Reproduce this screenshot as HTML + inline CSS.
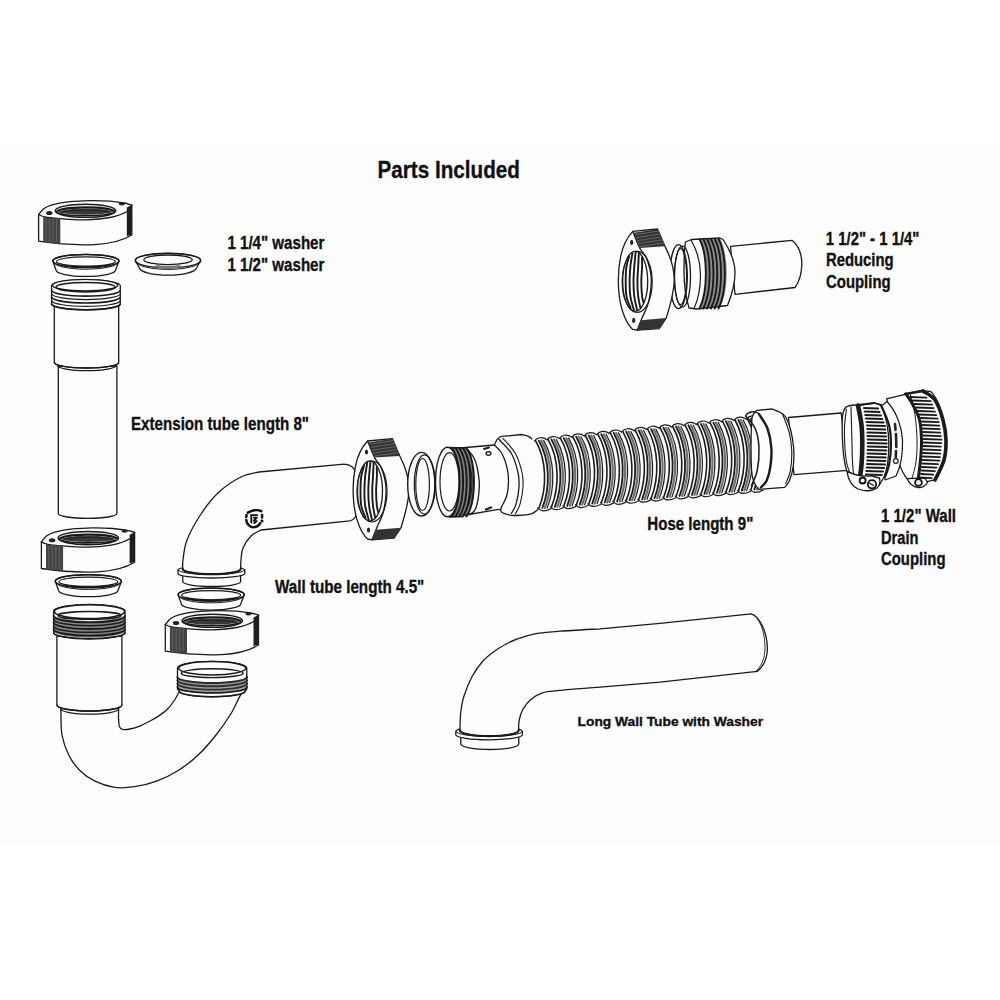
<!DOCTYPE html>
<html><head><meta charset="utf-8"><style>html,body{margin:0;padding:0;background:#fff;width:1000px;height:1000px;overflow:hidden}svg{display:block}</style></head><body>
<svg width="1000" height="1000" viewBox="0 0 1000 1000" stroke-linejoin="round" stroke-linecap="round">
<rect width="1000" height="1000" fill="#fff"/>
<rect y="144" width="1000" height="699" fill="#fdfdfd"/>
<defs>
<g id="nut"><path d="M38.6,214.5 L38.6,241.2 C55,243.8 75,245.3 95,244.6 C110,243.8 124,239.8 131.8,235 L131.8,205 L38.6,214.5Z" fill="#fdfdfd" stroke="#1a1a1a" stroke-width="1.30" />
<path d="M38.6,214.5 C39.5,213.5 41.8,210.1 44.0,208.5 C46.2,206.9 47.7,206.0 52.0,204.8 C56.3,203.7 63.7,202.3 70.0,201.6 C76.3,200.9 83.3,200.7 90.0,200.6 C96.7,200.5 104.3,200.8 110.0,201.2 C115.7,201.6 120.4,202.4 124.0,203.0 C127.6,203.6 130.5,204.7 131.8,205.0C131.0,206.1 130.6,209.4 127.0,211.5 C123.4,213.6 117.0,216.1 110.0,217.5 C103.0,218.9 93.3,219.6 85.0,219.8 C76.7,220.0 66.7,219.1 60.0,218.6 C53.3,218.1 48.6,217.7 45.0,217.0 C41.4,216.3 39.7,214.9 38.6,214.5Z" fill="#fdfdfd" stroke="#1a1a1a" stroke-width="1.30" />
<ellipse cx="85.5" cy="210.8" rx="30.3" ry="6.6" fill="#fdfdfd" stroke="#1a1a1a" stroke-width="1.40" />
<path d="M57,211.5 C62,206.5 105,205.5 114,211" fill="none" stroke="#1a1a1a" stroke-width="2.20" />
<path d="M58,213 C66,216.5 104,216.5 113,213" fill="none" stroke="#1a1a1a" stroke-width="1.60" />
<path d="M58,212 C64,207.5 106,207 113,212 C104,215.5 66,215.5 58,212Z" fill="#3a3a3a"/>
<path d="M62,212 C70,209.5 100,209.5 109,212" fill="#3a3a3a" stroke="#1a1a1a" stroke-width="0.80" stroke="#eee"/>
<path d="M43.2,217.2 L60.3,218.6 L60.3,243.8 L43.2,242.2Z" fill="#444"/>
<line x1="46.0" y1="219" x2="46.0" y2="241" stroke="#777" stroke-width="0.6"/>
<line x1="49.5" y1="219" x2="49.5" y2="241" stroke="#777" stroke-width="0.6"/>
<line x1="53.0" y1="219" x2="53.0" y2="241" stroke="#777" stroke-width="0.6"/>
<line x1="56.5" y1="219" x2="56.5" y2="241" stroke="#777" stroke-width="0.6"/>
<path d="M126.8,207.5 L131.8,205 L131.8,234.5 L126.8,236.2Z" fill="#1e1e1e"/>
<ellipse cx="49.3" cy="213" rx="3.2" ry="2.0" fill="#222"/>
<ellipse cx="121.8" cy="203.8" rx="3.0" ry="1.7" fill="#222"/></g>
<g id="wsh"><path d="M52.8,261 A33.1,6.6 0 0 1 119,261 L115.6,270 A29.8,6.4 0 0 1 56,270 Z" fill="#fdfdfd" stroke="#1a1a1a" stroke-width="1.30" />
<ellipse cx="85.9" cy="261.0" rx="33.1" ry="6.6" fill="none" stroke="#1a1a1a" stroke-width="1.50" />
<ellipse cx="85.9" cy="261.5" rx="29.5" ry="4.6" fill="none" stroke="#1a1a1a" stroke-width="1.20" />
<path d="M53.6,262.2 A32.3,7.0 0 0 0 118.2,262.2" fill="none" stroke="#1a1a1a" stroke-width="1.00" />
<path d="M62,264.5 C70,267.5 102,267.5 110,264.5" fill="none" stroke="#1a1a1a" stroke-width="1.60" /></g>
<g id="snut"><path d="M367.6,441 L392.3,438.6 L399.8,456 C406,468 409,480 409,489 C409,500 405,515 401,527.7 L394,538.2 L372,539.8 L367.6,539 C362,534 356,522 354,505 C352.5,492 353,478 355.5,466 C357.5,456 361,448 367.6,441Z" fill="#fdfdfd" stroke="#1a1a1a" stroke-width="1.30" />
<path d="M367.6,441.0 C368.8,443.8 372.2,453.1 374.5,457.6 C376.8,462.1 379.5,463.0 381.4,468.0 C383.3,473.0 385.6,480.4 386.0,487.5 C386.4,494.6 385.2,503.8 383.7,510.5 C382.2,517.2 378.8,522.8 376.8,527.7 C374.9,532.6 372.8,537.8 372.0,539.8" fill="none" stroke="#1a1a1a" stroke-width="1.30" />
<path d="M368.7,442.4 L392.3,438.8 L399.8,455.9 L374.5,457.6Z" fill="#333"/>
<line x1="371.0" y1="444.2" x2="394.0" y2="440.5" stroke="#888" stroke-width="0.6"/>
<line x1="371.8" y1="447.2" x2="395.2" y2="443.5" stroke="#888" stroke-width="0.6"/>
<line x1="372.6" y1="450.2" x2="396.4" y2="446.5" stroke="#888" stroke-width="0.6"/>
<line x1="373.4" y1="453.2" x2="397.6" y2="449.5" stroke="#888" stroke-width="0.6"/>
<line x1="374.2" y1="456.2" x2="398.8" y2="452.5" stroke="#888" stroke-width="0.6"/>
<path d="M375.6,529.8 L401,527.7 L394,538.2 L372,539.8Z" fill="#333"/>
<ellipse cx="372.0" cy="491.5" rx="15.0" ry="30.5" fill="none" stroke="#1a1a1a" stroke-width="1.20" />
<ellipse cx="370.0" cy="491.0" rx="12.5" ry="30.0" fill="#fdfdfd" stroke="#1a1a1a" stroke-width="1.30" />
<path d="M364.0,465.9 C363.6,467.6 361.9,471.8 361.3,476.0 C360.7,480.2 360.5,486.0 360.5,491.0 C360.5,496.0 360.5,501.5 361.3,506.0 C362.1,510.5 364.8,515.8 365.5,517.8" fill="none" stroke="#1a1a1a" stroke-width="1.90" />
<path d="M367.2,463.0 C366.9,465.1 365.7,471.3 365.2,476.0 C364.7,480.7 364.4,486.0 364.4,491.0 C364.4,496.0 364.5,501.2 365.2,506.0 C365.9,510.8 368.1,517.4 368.7,519.6" fill="none" stroke="#1a1a1a" stroke-width="1.90" />
<path d="M370.4,462.2 C370.2,464.5 369.5,471.2 369.1,476.0 C368.8,480.8 368.3,486.0 368.3,491.0 C368.3,496.0 368.5,501.3 369.1,506.0 C369.7,510.7 371.4,517.2 371.9,519.5" fill="none" stroke="#1a1a1a" stroke-width="1.90" />
<path d="M373.6,463.5 C373.5,465.6 373.2,471.4 373.0,476.0 C372.8,480.6 372.2,486.0 372.2,491.0 C372.2,496.0 372.5,501.6 373.0,506.0 C373.5,510.4 374.8,515.3 375.1,517.2" fill="none" stroke="#1a1a1a" stroke-width="1.90" />
<path d="M376.8,467.0 C376.8,468.5 377.0,472.0 376.9,476.0 C376.8,480.0 376.1,486.0 376.1,491.0 C376.1,496.0 376.5,502.5 376.9,506.0 C377.3,509.5 378.1,511.2 378.3,512.2" fill="none" stroke="#1a1a1a" stroke-width="1.90" />
<ellipse cx="366.5" cy="452" rx="1.6" ry="2.6" fill="#222"/>
<ellipse cx="368.5" cy="530" rx="1.6" ry="2.6" fill="#222"/></g>
</defs>
<use href="#nut"/>
<use href="#wsh"/>
<path d="M135.2,260.5 A32.7,7.2 0 0 1 200.7,260.5 L196.5,268 A28.6,7.6 0 0 1 139.4,268 Z" fill="#fdfdfd" stroke="#1a1a1a" stroke-width="1.30" />
<ellipse cx="168.0" cy="260.5" rx="32.7" ry="7.2" fill="none" stroke="#1a1a1a" stroke-width="1.40" />
<ellipse cx="168.0" cy="259.8" rx="24.2" ry="4.8" fill="none" stroke="#1a1a1a" stroke-width="1.30" />
<path d="M136.5,262.0 A31.5,7.4 0 0 0 199.5,262.0" fill="none" stroke="#1a1a1a" stroke-width="1.00" />
<path d="M155,264.2 C160,266.5 176,266.5 181,264.2 L178,268 C170,269.5 162,269.5 158,268Z" fill="#777"/>
<path d="M58.3,366 L58.3,513.6 A29.3,4.8 0 0 0 116.9,513.6 L116.9,366Z" fill="#fdfdfd" stroke="#1a1a1a" stroke-width="1.30" />
<path d="M54.3,304 L54.3,362.4 A32.2,5.6 0 0 0 118.7,362.4 L118.7,304Z" fill="#fdfdfd" stroke="#1a1a1a" stroke-width="1.30" />
<path d="M54.3,362.4 A32.2,5.6 0 0 0 118.7,362.4" fill="none" stroke="#1a1a1a" stroke-width="1.30" />
<path d="M57.5,365.3 A29.4,5.3 0 0 0 116.3,365.3" fill="none" stroke="#1a1a1a" stroke-width="1.20" />
<path d="M51.6,285.5 A34.4,6.2 0 0 1 120.3,285.5 L120.3,304.5 A34.4,5.5 0 0 1 51.6,304.5Z" fill="#fdfdfd" stroke="#1a1a1a" stroke-width="1.30" />
<path d="M51.6,290.5 A34.4,6.0 0 0 0 120.3,290.5" fill="none" stroke="#1a1a1a" stroke-width="1.70" />
<path d="M51.6,293.9 A34.4,6.0 0 0 0 120.3,293.9" fill="none" stroke="#1a1a1a" stroke-width="1.20" />
<path d="M51.6,297.3 A34.4,6.0 0 0 0 120.3,297.3" fill="none" stroke="#1a1a1a" stroke-width="1.70" />
<path d="M51.6,300.7 A34.4,6.0 0 0 0 120.3,300.7" fill="none" stroke="#1a1a1a" stroke-width="1.20" />
<path d="M51.6,304.1 A34.4,6.0 0 0 0 120.3,304.1" fill="none" stroke="#1a1a1a" stroke-width="1.70" />
<ellipse cx="85.1" cy="285.2" rx="32.6" ry="5.8" fill="#fdfdfd" stroke="#1a1a1a" stroke-width="1.40" />
<ellipse cx="85.6" cy="287.2" rx="29.6" ry="4.8" fill="none" stroke="#1a1a1a" stroke-width="1.50" />
<use href="#nut" transform="translate(2.8,327.3)"/>
<use href="#wsh" transform="translate(2.45,320.25)"/>
<path d="M60.6,706.0 C60.6,707.0 60.7,707.2 60.9,712.0 C61.1,716.8 60.7,727.9 62.0,735.0 C63.3,742.1 65.7,748.9 68.6,754.8 C71.5,760.7 75.2,765.8 79.6,770.2 C84.0,774.6 89.1,778.3 95.0,781.2 C100.9,784.1 108.2,786.5 114.8,787.4 C121.4,788.3 127.6,787.7 134.6,786.7 C141.6,785.7 149.3,784.0 156.6,781.2 C163.9,778.5 171.6,774.6 178.6,770.2 C185.6,765.8 192.2,760.7 198.4,754.8 C204.6,748.9 210.5,742.0 216.0,735.0 C221.5,728.0 227.6,719.2 231.4,713.0 C235.2,706.8 237.3,700.9 239.1,697.6 C240.9,694.3 241.5,693.8 242.0,693.0 L178.8,692.2C178.0,693.7 175.9,698.2 174.0,701.0 C172.1,703.8 170.0,706.6 167.6,709.0 C165.2,711.4 162.5,713.4 159.6,715.4 C156.7,717.4 153.2,719.3 150.0,721.0 C146.8,722.7 143.7,724.5 140.4,725.8 C137.1,727.1 133.0,728.4 130.0,729.0 C127.0,729.6 124.3,729.8 122.5,729.4 C120.7,729.0 120.1,728.5 119.4,726.4 C118.7,724.3 118.6,720.4 118.5,717.0 C118.4,713.6 118.8,707.8 118.8,706.0Z" fill="#fdfdfd" stroke="#1a1a1a" stroke-width="1.30" />
<path d="M56.9,636 L56.9,705 A32.5,6 0 0 0 121.9,705 L121.9,636Z" fill="#fdfdfd" stroke="#1a1a1a" stroke-width="1.30" />
<path d="M56.9,705.0 A32.5,6.0 0 0 0 121.9,705.0" fill="none" stroke="#1a1a1a" stroke-width="1.30" />
<path d="M60.9,708.8 A28.8,5.3 0 0 0 118.5,708.8" fill="none" stroke="#1a1a1a" stroke-width="1.20" />
<path d="M53.6,611 A35.7,6.2 0 0 1 125,611 L125,633 A35.7,5.5 0 0 1 53.6,633Z" fill="#fdfdfd" stroke="#1a1a1a" stroke-width="1.30" />
<path d="M54,615 A35.5,6.5 0 0 0 124.7,615 L124.7,632 A35.5,6 0 0 1 54,632Z" fill="#333" opacity="0.6"/>
<path d="M53.6,616.0 A35.7,6.4 0 0 0 125.0,616.0" fill="none" stroke="#1a1a1a" stroke-width="1.90" />
<path d="M53.6,619.3 A35.7,6.4 0 0 0 125.0,619.3" fill="none" stroke="#1a1a1a" stroke-width="1.50" />
<path d="M53.6,622.6 A35.7,6.4 0 0 0 125.0,622.6" fill="none" stroke="#1a1a1a" stroke-width="1.90" />
<path d="M53.6,625.9 A35.7,6.4 0 0 0 125.0,625.9" fill="none" stroke="#1a1a1a" stroke-width="1.50" />
<path d="M53.6,629.2 A35.7,6.4 0 0 0 125.0,629.2" fill="none" stroke="#1a1a1a" stroke-width="1.90" />
<path d="M53.6,632.5 A35.7,6.4 0 0 0 125.0,632.5" fill="none" stroke="#1a1a1a" stroke-width="1.50" />
<ellipse cx="89.5" cy="611.6" rx="35.3" ry="7.0" fill="#fdfdfd" stroke="#1a1a1a" stroke-width="1.60" />
<ellipse cx="89.5" cy="615.4" rx="31.5" ry="3.9" fill="none" stroke="#1a1a1a" stroke-width="1.50" />
<path d="M177.5,668 A34.5,6.5 0 0 1 246.8,668 L246.8,689 L245.3,691 A33,5.8 0 0 1 179.2,691 L177.5,689Z" fill="#fdfdfd" stroke="#1a1a1a" stroke-width="1.30" />
<path d="M177.4,677.0 A34.8,6.0 0 0 0 247.0,677.0" fill="none" stroke="#1a1a1a" stroke-width="1.90" />
<path d="M177.4,680.3 A34.8,6.0 0 0 0 247.0,680.3" fill="none" stroke="#1a1a1a" stroke-width="1.90" />
<path d="M177.4,683.6 A34.8,6.0 0 0 0 247.0,683.6" fill="none" stroke="#1a1a1a" stroke-width="1.90" />
<path d="M177.4,686.9 A34.8,6.0 0 0 0 247.0,686.9" fill="none" stroke="#1a1a1a" stroke-width="1.90" />
<path d="M178,677 A34.5,6 0 0 0 246.5,677 L246.5,687 A34.5,6 0 0 1 178,687Z" fill="#444" opacity="0.5"/>
<path d="M179.2,691.0 A33.0,5.8 0 0 0 245.2,691.0" fill="none" stroke="#1a1a1a" stroke-width="1.50" />
<ellipse cx="212.2" cy="668.3" rx="33.6" ry="6.7" fill="#fdfdfd" stroke="#1a1a1a" stroke-width="1.50" />
<ellipse cx="212.2" cy="673.2" rx="31.0" ry="4.4" fill="none" stroke="#1a1a1a" stroke-width="1.40" />
<use href="#nut" transform="translate(126.7,410)"/>
<use href="#wsh" transform="translate(125.25,333.65)"/>
<path d="M182.75,574 L182.75,581.5 A28.9,5 0 0 0 240.6,581.5 L240.6,574Z" fill="#fdfdfd" stroke="#1a1a1a" stroke-width="1.30" />
<path d="M178,570 A33.4,4.5 0 0 1 244.8,570 L244.8,573.5 A33.4,4.5 0 0 1 178,573.5Z" fill="#fdfdfd" stroke="#1a1a1a" stroke-width="1.30" />
<path d="M178.0,570.0 A33.4,4.5 0 0 0 244.8,570.0" fill="none" stroke="#1a1a1a" stroke-width="1.00" />
<path d="M344,464.2 L259,472C256.0,472.8 247.7,473.7 241.0,477.0 C234.3,480.3 225.7,485.8 219.0,492.0 C212.3,498.2 206.3,506.0 201.0,514.0 C195.7,522.0 190.0,532.3 187.0,540.0 C184.0,547.7 183.7,555.2 183.0,560.0 C182.3,564.8 182.8,567.5 182.8,569.0 A28.9,5.2 0 0 0 240.6,569C240.7,567.5 240.6,563.5 241.0,560.0 C241.4,556.5 241.3,552.0 243.0,548.0 C244.7,544.0 248.0,539.0 251.0,536.0 C254.0,533.0 259.3,531.0 261.0,530.0 L350,520.8 C354,520 356.5,516 357.2,511 C358.6,500 358.6,482 356.5,474 C355,469 351,464.5 344,464.2Z" fill="#fdfdfd" stroke="#1a1a1a" stroke-width="1.30" />
<path d="M182.8,569.0 A28.9,5.2 0 0 0 240.6,569.0" fill="none" stroke="#1a1a1a" stroke-width="2.20" />
<g transform="translate(254.3,518.6) scale(1.00)">
<path d="M-6.5,-6 C-3,-8 3,-9.5 7,-7.5 M7.8,-3.5 L7.8,-1 M7.5,2 L8,2.5 M6,4.5 C4.5,7 2,8.5 -0.5,8.6 M-2.5,8.5 C-5.5,7.5 -7.5,5 -8,1.5 M-8,-1.5 L-7.8,-3.5" fill="none" stroke="#111" stroke-width="2.5" stroke-linecap="round"/>
<path d="M-3.5,-3.5 L3,-3.5 M-3,-2 L-3,4 M-0.5,-1 L2.5,-1 L-0.5,2 L2.5,2.5 L0,4.5" fill="none" stroke="#111" stroke-width="1.9"/>
</g>
<use href="#snut"/>
<ellipse cx="421.5" cy="484.2" rx="13.8" ry="31.8" fill="#fdfdfd" stroke="#1a1a1a" stroke-width="1.40" />
<ellipse cx="424.5" cy="484.5" rx="10.2" ry="29.6" fill="none" stroke="#1a1a1a" stroke-width="1.20" />
<ellipse cx="422.6" cy="484.5" rx="6.8" ry="26.0" fill="none" stroke="#1a1a1a" stroke-width="1.20" />
<path d="M460,448 L494.3,445 L512,444 L512,509 L497,509.7 L460,516Z" fill="#fdfdfd" stroke="#1a1a1a" stroke-width="1.30" />
<path d="M466.5,448.3 C467.8,449.9 472.1,454.4 474.0,458.0 C475.9,461.6 476.7,464.9 477.6,469.7 C478.5,474.5 479.6,480.3 479.3,486.7 C479.0,493.1 477.5,503.4 475.9,508.0 C474.3,512.6 470.9,513.4 469.9,514.5" fill="none" stroke="#1a1a1a" stroke-width="1.30" />
<path d="M494.3,445 L497.1,439.3 C499,437 500,436.6 501.9,436.4 L521.8,434.5C522.9,434.8 526.6,435.4 528.5,436.4 C530.4,437.3 532.4,439.6 533.2,440.2C534.2,441.6 537.4,444.2 539.0,448.8 C540.6,453.4 542.0,462.3 542.7,467.8 C543.4,473.3 543.4,476.8 543.2,482.0 C543.1,487.2 542.8,494.2 541.8,499.0 C540.8,503.8 537.8,508.6 537.0,510.5C535.7,511.1 533.7,513.6 529.4,514.4 C525.1,515.2 516.0,515.6 511.4,515.3 C506.8,515.0 503.5,513.0 501.9,512.5C501.7,511.9 500.1,511.4 500.9,508.7 C501.7,506.0 505.3,500.8 506.6,496.3 C507.9,491.9 508.4,486.8 508.5,482.0 C508.6,477.2 508.2,472.6 507.1,467.8 C506.0,463.1 504.0,457.3 501.9,453.5 C499.8,449.7 495.6,446.4 494.3,445.0Z" fill="#fdfdfd" stroke="#1a1a1a" stroke-width="1.30" />
<path d="M499.0,439.3 C501.1,441.7 508.2,448.0 511.4,453.5 C514.6,459.0 516.7,466.9 518.0,472.5 C519.3,478.1 519.3,481.6 519.0,486.8 C518.7,492.0 517.4,499.5 516.1,503.9 C514.8,508.3 512.2,511.8 511.4,513.4" fill="none" stroke="#1a1a1a" stroke-width="1.30" />
<path d="M503.0,438.3 C505.1,440.8 512.2,447.8 515.4,453.5 C518.6,459.2 520.7,466.9 522.0,472.5 C523.3,478.1 523.3,481.6 523.0,486.8 C522.7,492.0 521.4,499.4 520.1,503.9 C518.8,508.4 516.2,512.3 515.4,514.0" fill="none" stroke="#1a1a1a" stroke-width="1.10" />
<path d="M447,447.5 L463.8,448 C470,460 472,475 472,482 C472,495 469,508 462,516.5 L449.5,517Z" fill="#fdfdfd" stroke="#1a1a1a" stroke-width="1.30" />
<path d="M452,448 C462,462 462,502 452,516.5 L467,516 C477,502 477,462 467,448Z" fill="#333" opacity="0.6"/>
<path d="M452.0,448 C462.0,462 462.0,502 452.0,516.5" fill="none" stroke="#1a1a1a" stroke-width="2.00" />
<path d="M455.6,448 C465.6,462 465.6,502 455.6,516.5" fill="none" stroke="#1a1a1a" stroke-width="2.00" />
<path d="M459.2,448 C469.2,462 469.2,502 459.2,516.5" fill="none" stroke="#1a1a1a" stroke-width="2.00" />
<path d="M462.8,448 C472.8,462 472.8,502 462.8,516.5" fill="none" stroke="#1a1a1a" stroke-width="2.00" />
<path d="M466.4,448 C476.4,462 476.4,502 466.4,516.5" fill="none" stroke="#1a1a1a" stroke-width="2.00" />
<ellipse cx="447.5" cy="482.0" rx="12.0" ry="34.8" fill="#fdfdfd" stroke="#1a1a1a" stroke-width="1.40" />
<ellipse cx="449.5" cy="481.8" rx="9.5" ry="29.2" fill="none" stroke="#1a1a1a" stroke-width="1.20" />
<ellipse cx="488.5" cy="453.5" rx="2.4" ry="1.7" fill="none" stroke="#222" stroke-width="1.4"/>
<path d="M484,449 L489,447.5" stroke="#222" stroke-width="2"/>
<path d="M486,509.5 L491,507.5" stroke="#222" stroke-width="2.2"/>
<path d="M532,439 L746,416 L754,490 L538,509Z" fill="#fdfdfd"/>
<path d="M535.5,440.6 C547.0,460.3 547.0,488.1 539.0,508.0" fill="none" stroke="#1c1c1c" stroke-width="1.60"/>
<path d="M538.8,440.6 C550.3,460.3 550.3,488.1 542.3,508.0" fill="none" stroke="#1c1c1c" stroke-width="1.80"/>
<path d="M541.3,440.6 C552.8,460.3 552.8,488.1 544.8,508.0" fill="none" stroke="#707070" stroke-width="2.20"/>
<path d="M543.7,440.6 C555.2,460.3 555.2,488.1 547.2,508.0" fill="none" stroke="#1c1c1c" stroke-width="1.20"/>
<path d="M534.5,440.9 C537.0,437.2 542.5,436.6 546.9,439.8" fill="none" stroke="#1c1c1c" stroke-width="1.2"/>
<path d="M538.0,508.0 C540.5,511.2 545.5,511.6 551.0,508.6" fill="none" stroke="#1c1c1c" stroke-width="1.2"/>
<path d="M548.0,439.4 C559.5,459.1 559.5,487.0 551.5,506.9" fill="none" stroke="#1c1c1c" stroke-width="1.60"/>
<path d="M551.3,439.4 C562.8,459.1 562.8,487.0 554.8,506.9" fill="none" stroke="#1c1c1c" stroke-width="1.80"/>
<path d="M553.8,439.4 C565.3,459.1 565.3,487.0 557.3,506.9" fill="none" stroke="#707070" stroke-width="2.20"/>
<path d="M556.2,439.4 C567.7,459.1 567.7,487.0 559.7,506.9" fill="none" stroke="#1c1c1c" stroke-width="1.20"/>
<path d="M547.0,439.7 C549.5,436.0 555.0,435.4 559.4,438.6" fill="none" stroke="#1c1c1c" stroke-width="1.2"/>
<path d="M550.5,506.9 C553.0,510.1 558.0,510.5 563.5,507.5" fill="none" stroke="#1c1c1c" stroke-width="1.2"/>
<path d="M560.4,438.1 C571.9,457.8 571.9,485.8 563.9,505.8" fill="none" stroke="#1c1c1c" stroke-width="1.60"/>
<path d="M563.7,438.1 C575.2,457.8 575.2,485.8 567.2,505.8" fill="none" stroke="#1c1c1c" stroke-width="1.80"/>
<path d="M566.2,438.1 C577.7,457.8 577.7,485.8 569.7,505.8" fill="none" stroke="#707070" stroke-width="2.20"/>
<path d="M568.6,438.1 C580.1,457.8 580.1,485.8 572.1,505.8" fill="none" stroke="#1c1c1c" stroke-width="1.20"/>
<path d="M559.4,438.4 C561.9,434.7 567.4,434.1 571.8,437.3" fill="none" stroke="#1c1c1c" stroke-width="1.2"/>
<path d="M562.9,505.8 C565.4,509.0 570.4,509.4 575.9,506.4" fill="none" stroke="#1c1c1c" stroke-width="1.2"/>
<path d="M572.9,436.8 C584.4,456.6 584.4,484.7 576.4,504.7" fill="none" stroke="#1c1c1c" stroke-width="1.60"/>
<path d="M576.2,436.8 C587.7,456.6 587.7,484.7 579.7,504.7" fill="none" stroke="#1c1c1c" stroke-width="1.80"/>
<path d="M578.7,436.8 C590.2,456.6 590.2,484.7 582.2,504.7" fill="none" stroke="#707070" stroke-width="2.20"/>
<path d="M581.1,436.8 C592.6,456.6 592.6,484.7 584.6,504.7" fill="none" stroke="#1c1c1c" stroke-width="1.20"/>
<path d="M571.9,437.1 C574.4,433.4 579.9,432.8 584.3,436.0" fill="none" stroke="#1c1c1c" stroke-width="1.2"/>
<path d="M575.4,504.7 C577.9,507.9 582.9,508.3 588.4,505.3" fill="none" stroke="#1c1c1c" stroke-width="1.2"/>
<path d="M585.4,435.5 C596.9,455.4 596.9,483.5 588.9,503.6" fill="none" stroke="#1c1c1c" stroke-width="1.60"/>
<path d="M588.7,435.5 C600.2,455.4 600.2,483.5 592.2,503.6" fill="none" stroke="#1c1c1c" stroke-width="1.80"/>
<path d="M591.2,435.5 C602.7,455.4 602.7,483.5 594.7,503.6" fill="none" stroke="#707070" stroke-width="2.20"/>
<path d="M593.6,435.5 C605.1,455.4 605.1,483.5 597.1,503.6" fill="none" stroke="#1c1c1c" stroke-width="1.20"/>
<path d="M584.4,435.8 C586.9,432.1 592.4,431.5 596.8,434.7" fill="none" stroke="#1c1c1c" stroke-width="1.2"/>
<path d="M587.9,503.6 C590.4,506.8 595.4,507.2 600.9,504.2" fill="none" stroke="#1c1c1c" stroke-width="1.2"/>
<path d="M597.9,434.2 C609.4,454.2 609.4,482.4 601.4,502.5" fill="none" stroke="#1c1c1c" stroke-width="1.60"/>
<path d="M601.2,434.2 C612.7,454.2 612.7,482.4 604.7,502.5" fill="none" stroke="#1c1c1c" stroke-width="1.80"/>
<path d="M603.7,434.2 C615.2,454.2 615.2,482.4 607.2,502.5" fill="none" stroke="#707070" stroke-width="2.20"/>
<path d="M606.1,434.2 C617.6,454.2 617.6,482.4 609.6,502.5" fill="none" stroke="#1c1c1c" stroke-width="1.20"/>
<path d="M596.9,434.5 C599.4,430.8 604.9,430.2 609.3,433.4" fill="none" stroke="#1c1c1c" stroke-width="1.2"/>
<path d="M600.4,502.5 C602.9,505.7 607.9,506.1 613.4,503.1" fill="none" stroke="#1c1c1c" stroke-width="1.2"/>
<path d="M610.3,432.9 C621.8,452.9 621.8,481.2 613.8,501.5" fill="none" stroke="#1c1c1c" stroke-width="1.60"/>
<path d="M613.6,432.9 C625.1,452.9 625.1,481.2 617.1,501.5" fill="none" stroke="#1c1c1c" stroke-width="1.80"/>
<path d="M616.1,432.9 C627.6,452.9 627.6,481.2 619.6,501.5" fill="none" stroke="#707070" stroke-width="2.20"/>
<path d="M618.5,432.9 C630.0,452.9 630.0,481.2 622.0,501.5" fill="none" stroke="#1c1c1c" stroke-width="1.20"/>
<path d="M609.3,433.2 C611.8,429.5 617.3,428.9 621.7,432.1" fill="none" stroke="#1c1c1c" stroke-width="1.2"/>
<path d="M612.8,501.5 C615.3,504.7 620.3,505.1 625.8,502.1" fill="none" stroke="#1c1c1c" stroke-width="1.2"/>
<path d="M622.8,431.6 C634.3,451.7 634.3,480.1 626.3,500.4" fill="none" stroke="#1c1c1c" stroke-width="1.60"/>
<path d="M626.1,431.6 C637.6,451.7 637.6,480.1 629.6,500.4" fill="none" stroke="#1c1c1c" stroke-width="1.80"/>
<path d="M628.6,431.6 C640.1,451.7 640.1,480.1 632.1,500.4" fill="none" stroke="#707070" stroke-width="2.20"/>
<path d="M631.0,431.6 C642.5,451.7 642.5,480.1 634.5,500.4" fill="none" stroke="#1c1c1c" stroke-width="1.20"/>
<path d="M621.8,431.9 C624.3,428.2 629.8,427.6 634.2,430.8" fill="none" stroke="#1c1c1c" stroke-width="1.2"/>
<path d="M625.3,500.4 C627.8,503.6 632.8,504.0 638.3,501.0" fill="none" stroke="#1c1c1c" stroke-width="1.2"/>
<path d="M635.3,430.3 C646.8,450.5 646.8,478.9 638.8,499.3" fill="none" stroke="#1c1c1c" stroke-width="1.60"/>
<path d="M638.6,430.3 C650.1,450.5 650.1,478.9 642.1,499.3" fill="none" stroke="#1c1c1c" stroke-width="1.80"/>
<path d="M641.1,430.3 C652.6,450.5 652.6,478.9 644.6,499.3" fill="none" stroke="#707070" stroke-width="2.20"/>
<path d="M643.5,430.3 C655.0,450.5 655.0,478.9 647.0,499.3" fill="none" stroke="#1c1c1c" stroke-width="1.20"/>
<path d="M634.3,430.6 C636.8,426.9 642.3,426.3 646.7,429.5" fill="none" stroke="#1c1c1c" stroke-width="1.2"/>
<path d="M637.8,499.3 C640.3,502.5 645.3,502.9 650.8,499.9" fill="none" stroke="#1c1c1c" stroke-width="1.2"/>
<path d="M647.7,429.1 C659.2,449.3 659.2,477.8 651.2,498.2" fill="none" stroke="#1c1c1c" stroke-width="1.60"/>
<path d="M651.0,429.1 C662.5,449.3 662.5,477.8 654.5,498.2" fill="none" stroke="#1c1c1c" stroke-width="1.80"/>
<path d="M653.5,429.1 C665.0,449.3 665.0,477.8 657.0,498.2" fill="none" stroke="#707070" stroke-width="2.20"/>
<path d="M655.9,429.1 C667.4,449.3 667.4,477.8 659.4,498.2" fill="none" stroke="#1c1c1c" stroke-width="1.20"/>
<path d="M646.7,429.4 C649.2,425.7 654.7,425.1 659.1,428.3" fill="none" stroke="#1c1c1c" stroke-width="1.2"/>
<path d="M650.2,498.2 C652.7,501.4 657.7,501.8 663.2,498.8" fill="none" stroke="#1c1c1c" stroke-width="1.2"/>
<path d="M660.2,427.8 C671.7,448.0 671.7,476.7 663.7,497.1" fill="none" stroke="#1c1c1c" stroke-width="1.60"/>
<path d="M663.5,427.8 C675.0,448.0 675.0,476.7 667.0,497.1" fill="none" stroke="#1c1c1c" stroke-width="1.80"/>
<path d="M666.0,427.8 C677.5,448.0 677.5,476.7 669.5,497.1" fill="none" stroke="#707070" stroke-width="2.20"/>
<path d="M668.4,427.8 C679.9,448.0 679.9,476.7 671.9,497.1" fill="none" stroke="#1c1c1c" stroke-width="1.20"/>
<path d="M659.2,428.1 C661.7,424.4 667.2,423.8 671.6,427.0" fill="none" stroke="#1c1c1c" stroke-width="1.2"/>
<path d="M662.7,497.1 C665.2,500.3 670.2,500.7 675.7,497.7" fill="none" stroke="#1c1c1c" stroke-width="1.2"/>
<path d="M672.7,426.5 C684.2,446.8 684.2,475.5 676.2,496.0" fill="none" stroke="#1c1c1c" stroke-width="1.60"/>
<path d="M676.0,426.5 C687.5,446.8 687.5,475.5 679.5,496.0" fill="none" stroke="#1c1c1c" stroke-width="1.80"/>
<path d="M678.5,426.5 C690.0,446.8 690.0,475.5 682.0,496.0" fill="none" stroke="#707070" stroke-width="2.20"/>
<path d="M680.9,426.5 C692.4,446.8 692.4,475.5 684.4,496.0" fill="none" stroke="#1c1c1c" stroke-width="1.20"/>
<path d="M671.7,426.8 C674.2,423.1 679.7,422.5 684.1,425.7" fill="none" stroke="#1c1c1c" stroke-width="1.2"/>
<path d="M675.2,496.0 C677.7,499.2 682.7,499.6 688.2,496.6" fill="none" stroke="#1c1c1c" stroke-width="1.2"/>
<path d="M685.1,425.2 C696.6,445.6 696.6,474.4 688.6,495.0" fill="none" stroke="#1c1c1c" stroke-width="1.60"/>
<path d="M688.4,425.2 C699.9,445.6 699.9,474.4 691.9,495.0" fill="none" stroke="#1c1c1c" stroke-width="1.80"/>
<path d="M690.9,425.2 C702.4,445.6 702.4,474.4 694.4,495.0" fill="none" stroke="#707070" stroke-width="2.20"/>
<path d="M693.3,425.2 C704.8,445.6 704.8,474.4 696.8,495.0" fill="none" stroke="#1c1c1c" stroke-width="1.20"/>
<path d="M684.1,425.5 C686.6,421.8 692.1,421.2 696.5,424.4" fill="none" stroke="#1c1c1c" stroke-width="1.2"/>
<path d="M687.6,495.0 C690.1,498.2 695.1,498.6 700.6,495.6" fill="none" stroke="#1c1c1c" stroke-width="1.2"/>
<path d="M697.6,423.9 C709.1,444.4 709.1,473.2 701.1,493.9" fill="none" stroke="#1c1c1c" stroke-width="1.60"/>
<path d="M700.9,423.9 C712.4,444.4 712.4,473.2 704.4,493.9" fill="none" stroke="#1c1c1c" stroke-width="1.80"/>
<path d="M703.4,423.9 C714.9,444.4 714.9,473.2 706.9,493.9" fill="none" stroke="#707070" stroke-width="2.20"/>
<path d="M705.8,423.9 C717.3,444.4 717.3,473.2 709.3,493.9" fill="none" stroke="#1c1c1c" stroke-width="1.20"/>
<path d="M696.6,424.2 C699.1,420.5 704.6,419.9 709.0,423.1" fill="none" stroke="#1c1c1c" stroke-width="1.2"/>
<path d="M700.1,493.9 C702.6,497.1 707.6,497.5 713.1,494.5" fill="none" stroke="#1c1c1c" stroke-width="1.2"/>
<path d="M710.1,422.6 C721.6,443.1 721.6,472.1 713.6,492.8" fill="none" stroke="#1c1c1c" stroke-width="1.60"/>
<path d="M713.4,422.6 C724.9,443.1 724.9,472.1 716.9,492.8" fill="none" stroke="#1c1c1c" stroke-width="1.80"/>
<path d="M715.9,422.6 C727.4,443.1 727.4,472.1 719.4,492.8" fill="none" stroke="#707070" stroke-width="2.20"/>
<path d="M718.3,422.6 C729.8,443.1 729.8,472.1 721.8,492.8" fill="none" stroke="#1c1c1c" stroke-width="1.20"/>
<path d="M709.1,422.9 C711.6,419.2 717.1,418.6 721.5,421.8" fill="none" stroke="#1c1c1c" stroke-width="1.2"/>
<path d="M712.6,492.8 C715.1,496.0 720.1,496.4 725.6,493.4" fill="none" stroke="#1c1c1c" stroke-width="1.2"/>
<path d="M722.6,421.3 C734.1,441.9 734.1,470.9 726.1,491.7" fill="none" stroke="#1c1c1c" stroke-width="1.60"/>
<path d="M725.9,421.3 C737.4,441.9 737.4,470.9 729.4,491.7" fill="none" stroke="#1c1c1c" stroke-width="1.80"/>
<path d="M728.4,421.3 C739.9,441.9 739.9,470.9 731.9,491.7" fill="none" stroke="#707070" stroke-width="2.20"/>
<path d="M730.8,421.3 C742.3,441.9 742.3,470.9 734.3,491.7" fill="none" stroke="#1c1c1c" stroke-width="1.20"/>
<path d="M721.6,421.6 C724.1,417.9 729.6,417.3 734.0,420.5" fill="none" stroke="#1c1c1c" stroke-width="1.2"/>
<path d="M725.1,491.7 C727.6,494.9 732.6,495.3 738.1,492.3" fill="none" stroke="#1c1c1c" stroke-width="1.2"/>
<path d="M735.0,420.0 C746.5,440.7 746.5,469.8 738.5,490.6" fill="none" stroke="#1c1c1c" stroke-width="1.60"/>
<path d="M738.3,420.0 C749.8,440.7 749.8,469.8 741.8,490.6" fill="none" stroke="#1c1c1c" stroke-width="1.80"/>
<path d="M740.8,420.0 C752.3,440.7 752.3,469.8 744.3,490.6" fill="none" stroke="#707070" stroke-width="2.20"/>
<path d="M743.2,420.0 C754.7,440.7 754.7,469.8 746.7,490.6" fill="none" stroke="#1c1c1c" stroke-width="1.20"/>
<path d="M734.0,420.3 C736.5,416.6 742.0,416.0 746.4,419.2" fill="none" stroke="#1c1c1c" stroke-width="1.2"/>
<path d="M737.5,490.6 C740.0,493.8 745.0,494.2 750.5,491.2" fill="none" stroke="#1c1c1c" stroke-width="1.2"/>
<path d="M747.5,418.8 C759.0,439.4 759.0,468.6 751.0,489.5" fill="none" stroke="#1c1c1c" stroke-width="1.60"/>
<path d="M750.8,418.8 C762.3,439.4 762.3,468.6 754.3,489.5" fill="none" stroke="#1c1c1c" stroke-width="1.80"/>
<path d="M753.3,418.8 C764.8,439.4 764.8,468.6 756.8,489.5" fill="none" stroke="#707070" stroke-width="2.20"/>
<path d="M755.7,418.8 C767.2,439.4 767.2,468.6 759.2,489.5" fill="none" stroke="#1c1c1c" stroke-width="1.20"/>
<path d="M746.5,419.1 C749.0,415.4 754.5,414.8 758.9,418.0" fill="none" stroke="#1c1c1c" stroke-width="1.2"/>
<path d="M750.0,489.5 C752.5,492.7 757.5,493.1 763.0,490.1" fill="none" stroke="#1c1c1c" stroke-width="1.2"/>
<path d="M788.4,417.5 L841.2,413 L847.8,470.3 L794,474.7Z" fill="#fdfdfd" stroke="#1a1a1a" stroke-width="1.30" />
<path d="M757.1,410.4 L772.3,409C773.6,409.6 777.8,411.0 780.0,412.3 C782.2,413.6 783.9,414.3 785.6,417.0 C787.3,419.7 789.0,423.4 790.3,428.5 C791.6,433.6 793.1,441.2 793.6,447.5 C794.1,453.8 793.9,461.0 793.2,466.5 C792.5,472.0 790.8,477.2 789.4,480.7 C788.0,484.2 785.4,486.3 784.6,487.4 L759,489.3 C755,486 752,478 751.5,470 C751,458 751,430 752,418 C753,414 755,411.5 757.1,410.4Z" fill="#fdfdfd" stroke="#1a1a1a" stroke-width="1.30" />
<path d="M782.7,414.2 C783.8,417.4 787.9,426.9 789.4,433.2 C790.9,439.5 791.6,445.9 791.8,452.2 C791.9,458.5 791.3,466.0 790.3,471.2 C789.3,476.4 786.4,481.5 785.6,483.6" fill="none" stroke="#1a1a1a" stroke-width="1.10" />
<path d="M759.0,414.2 C760.4,416.6 765.5,422.9 767.5,428.5 C769.5,434.1 770.8,441.2 771.3,447.5 C771.8,453.8 771.2,461.0 770.4,466.5 C769.6,472.0 768.2,477.2 766.6,480.7 C765.0,484.2 761.9,486.3 760.9,487.4" fill="none" stroke="#1a1a1a" stroke-width="2.40" />
<path d="M745.7,416.0 C747.3,418.1 753.0,423.2 755.2,428.5 C757.4,433.8 758.7,440.4 759.0,447.5 C759.3,454.6 758.4,464.9 757.1,471.2 C755.8,477.5 752.4,483.1 751.4,485.5" fill="none" stroke="#1a1a1a" stroke-width="1.50" />
<path d="M745.5,416 C747,413 751,411.5 755,411.8 C757,412 758.5,413 759,414.2" fill="none" stroke="#1a1a1a" stroke-width="1.30" />
<path d="M886.6,398.8 L921.4,390.4 L931,391.6 C938,399 944,415 945.4,439 C946,455 943,470 934.6,479.8 L919,483.4 L907,478.6 C900,470 896,455 894,440 C892,425 890,410 886.6,398.8Z" fill="#fdfdfd" stroke="#1a1a1a" stroke-width="1.30" />
<path d="M910.0,393.5 C910.8,397.1 913.8,407.2 915.0,415.0 C916.2,422.8 916.8,432.2 917.0,440.0 C917.2,447.8 916.8,455.7 916.0,462.0 C915.2,468.3 912.7,475.3 912.0,478.0" fill="none" stroke="#1a1a1a" stroke-width="1.00" />
<line x1="910.1" y1="397.0" x2="926.5" y2="397.6" stroke="#1a1a1a" stroke-width="1.8"/>
<line x1="912.3" y1="400.5" x2="930.7" y2="401.1" stroke="#1a1a1a" stroke-width="1.8"/>
<line x1="914.6" y1="404.0" x2="932.1" y2="404.6" stroke="#1a1a1a" stroke-width="1.8"/>
<line x1="916.3" y1="407.5" x2="933.5" y2="408.1" stroke="#1a1a1a" stroke-width="1.8"/>
<line x1="917.8" y1="411.0" x2="934.9" y2="411.6" stroke="#1a1a1a" stroke-width="1.8"/>
<line x1="919.3" y1="414.5" x2="936.3" y2="415.1" stroke="#1a1a1a" stroke-width="1.8"/>
<line x1="920.8" y1="418.0" x2="937.7" y2="418.6" stroke="#1a1a1a" stroke-width="1.8"/>
<line x1="921.9" y1="421.5" x2="938.7" y2="422.1" stroke="#1a1a1a" stroke-width="1.8"/>
<line x1="922.2" y1="425.0" x2="939.2" y2="425.6" stroke="#1a1a1a" stroke-width="1.8"/>
<line x1="922.6" y1="428.5" x2="939.8" y2="429.1" stroke="#1a1a1a" stroke-width="1.8"/>
<line x1="922.9" y1="432.0" x2="940.3" y2="432.6" stroke="#1a1a1a" stroke-width="1.8"/>
<line x1="923.2" y1="435.5" x2="940.8" y2="436.1" stroke="#1a1a1a" stroke-width="1.8"/>
<line x1="923.6" y1="439.0" x2="941.4" y2="439.6" stroke="#1a1a1a" stroke-width="1.8"/>
<line x1="923.6" y1="442.5" x2="941.2" y2="443.1" stroke="#1a1a1a" stroke-width="1.8"/>
<line x1="923.4" y1="446.0" x2="940.9" y2="446.6" stroke="#1a1a1a" stroke-width="1.8"/>
<line x1="923.2" y1="449.5" x2="940.5" y2="450.1" stroke="#1a1a1a" stroke-width="1.8"/>
<line x1="923.1" y1="453.0" x2="940.2" y2="453.6" stroke="#1a1a1a" stroke-width="1.8"/>
<line x1="922.9" y1="456.5" x2="939.9" y2="457.1" stroke="#1a1a1a" stroke-width="1.8"/>
<line x1="922.7" y1="460.0" x2="939.5" y2="460.6" stroke="#1a1a1a" stroke-width="1.8"/>
<line x1="922.3" y1="463.5" x2="937.9" y2="464.1" stroke="#1a1a1a" stroke-width="1.8"/>
<line x1="921.9" y1="467.0" x2="936.4" y2="467.6" stroke="#1a1a1a" stroke-width="1.8"/>
<line x1="921.5" y1="470.5" x2="934.8" y2="471.1" stroke="#1a1a1a" stroke-width="1.8"/>
<line x1="921.0" y1="474.0" x2="933.2" y2="474.6" stroke="#1a1a1a" stroke-width="1.8"/>
<line x1="920.6" y1="477.5" x2="931.6" y2="478.1" stroke="#1a1a1a" stroke-width="1.8"/>
<path d="M906.0,394.0 C907.2,395.8 910.8,400.7 913.0,405.0 C915.2,409.3 918.1,414.2 919.5,420.0 C920.9,425.8 921.3,433.3 921.5,440.0 C921.7,446.7 921.1,453.2 920.5,460.0 C919.9,466.8 918.4,477.5 918.0,481.0" fill="none" stroke="#1a1a1a" stroke-width="3.00" />
<path d="M923.0,391.0 C925.0,392.5 931.7,395.2 935.0,400.0 C938.3,404.8 941.2,413.3 943.0,420.0 C944.8,426.7 945.8,433.3 946.0,440.0 C946.2,446.7 945.8,453.3 944.0,460.0 C942.2,466.7 936.5,476.7 935.0,480.0" fill="none" stroke="#1a1a1a" stroke-width="3.60" />
<path d="M905,394 L923,391" fill="none" stroke="#1a1a1a" stroke-width="2.40" />
<path d="M880.6,404.8 L883,404.8 L887,401.5 C897,412 902,428 902.5,440 C903,455 900,468 896,476 L885,480 C884,470 884,450 884,440 C884,425 882,412 880.6,404.8Z" fill="#fdfdfd" stroke="#1a1a1a" stroke-width="1.20" />
<path d="M895,424 L895.5,430 M896,434 L896.3,447 M896,451 L895.8,457" stroke="#222" stroke-width="2.6" fill="none"/>
<circle cx="895.8" cy="461" r="2.4" fill="none" stroke="#222" stroke-width="1.2"/>
<path d="M845.8,407.2 C850,405 854,404.5 858,405.4 L874.6,403 L880.6,404.8 C886,415 888.8,430 888.8,445 C888.8,460 887,470 884,477 L879.4,485 L847,471.4 C843,460 842,440 842.2,420 C842.5,414 844,409 845.8,407.2Z" fill="#fdfdfd" stroke="#1a1a1a" stroke-width="1.30" />
<path d="M846.5,409.0 C846.2,411.7 844.9,419.0 844.6,425.0 C844.3,431.0 844.5,438.8 844.8,445.0 C845.1,451.2 845.7,457.5 846.5,462.0 C847.3,466.5 849.0,470.3 849.5,472.0" fill="none" stroke="#1a1a1a" stroke-width="1.10" />
<path d="M851.0,407.0 C851.1,410.0 851.3,418.7 851.5,425.0 C851.7,431.3 851.8,438.8 852.0,445.0 C852.2,451.2 852.2,457.2 852.5,462.0 C852.8,466.8 853.3,472.0 853.5,474.0" fill="none" stroke="#1a1a1a" stroke-width="1.10" />
<line x1="863.9" y1="408.0" x2="878.2" y2="408.5" stroke="#1a1a1a" stroke-width="1.8"/>
<line x1="864.6" y1="411.5" x2="879.6" y2="412.0" stroke="#1a1a1a" stroke-width="1.8"/>
<line x1="865.2" y1="415.0" x2="881.0" y2="415.5" stroke="#1a1a1a" stroke-width="1.8"/>
<line x1="865.8" y1="418.5" x2="882.4" y2="419.0" stroke="#1a1a1a" stroke-width="1.8"/>
<line x1="866.5" y1="422.0" x2="883.8" y2="422.5" stroke="#1a1a1a" stroke-width="1.8"/>
<line x1="867.0" y1="425.5" x2="885.0" y2="426.0" stroke="#1a1a1a" stroke-width="1.8"/>
<line x1="867.2" y1="429.0" x2="885.4" y2="429.5" stroke="#1a1a1a" stroke-width="1.8"/>
<line x1="867.3" y1="432.5" x2="885.8" y2="433.0" stroke="#1a1a1a" stroke-width="1.8"/>
<line x1="867.4" y1="436.0" x2="886.1" y2="436.5" stroke="#1a1a1a" stroke-width="1.8"/>
<line x1="867.6" y1="439.5" x2="886.5" y2="440.0" stroke="#1a1a1a" stroke-width="1.8"/>
<line x1="867.7" y1="443.0" x2="886.8" y2="443.5" stroke="#1a1a1a" stroke-width="1.8"/>
<line x1="867.7" y1="446.5" x2="886.9" y2="447.0" stroke="#1a1a1a" stroke-width="1.8"/>
<line x1="867.6" y1="450.0" x2="886.5" y2="450.5" stroke="#1a1a1a" stroke-width="1.8"/>
<line x1="867.5" y1="453.5" x2="886.1" y2="454.0" stroke="#1a1a1a" stroke-width="1.8"/>
<line x1="867.3" y1="457.0" x2="885.8" y2="457.5" stroke="#1a1a1a" stroke-width="1.8"/>
<line x1="867.2" y1="460.5" x2="885.5" y2="461.0" stroke="#1a1a1a" stroke-width="1.8"/>
<line x1="867.0" y1="464.0" x2="885.1" y2="464.5" stroke="#1a1a1a" stroke-width="1.8"/>
<line x1="866.7" y1="467.5" x2="884.2" y2="468.0" stroke="#1a1a1a" stroke-width="1.8"/>
<line x1="866.2" y1="471.0" x2="883.0" y2="471.5" stroke="#1a1a1a" stroke-width="1.8"/>
<line x1="865.8" y1="474.5" x2="881.8" y2="475.0" stroke="#1a1a1a" stroke-width="1.8"/>
<path d="M858.0,405.5 C858.6,408.8 860.8,418.4 861.5,425.0 C862.2,431.6 862.3,438.3 862.3,445.0 C862.3,451.7 861.9,459.7 861.5,465.0 C861.1,470.3 860.2,475.0 860.0,477.0" fill="none" stroke="#1a1a1a" stroke-width="4.60" />
<path d="M881.0,405.0 C882.3,408.3 887.3,418.3 889.0,425.0 C890.7,431.7 891.0,438.3 891.0,445.0 C891.0,451.7 890.0,459.7 889.0,465.0 C888.0,470.3 885.7,475.0 885.0,477.0" fill="none" stroke="#1a1a1a" stroke-width="2.20" />
<path d="M858,405 L874.6,403 L880.6,404.8" fill="none" stroke="#1a1a1a" stroke-width="1.80" />
<path d="M847,471.4 C848,479 852,486 858,489 C864,491.5 872,491.5 877,488 C880,485.5 880.5,481 879.4,478 L872,476 C866,476.5 856,476 847,471.4Z" fill="#fdfdfd" stroke="#1a1a1a" stroke-width="1.30" />
<circle cx="862.6" cy="480.5" r="3" fill="#fdfdfd" stroke="#111" stroke-width="1.8"/>
<circle cx="872" cy="484.3" r="4.2" fill="#fdfdfd" stroke="#111" stroke-width="1.8"/>
<path d="M869.5,483 L873.5,485.5" stroke="#111" stroke-width="1.2"/>
<path d="M907,478.6 C909,483 913,487 918,487.5 C922,488 926,485.5 927.5,482.5 L925,478Z" fill="#fdfdfd" stroke="#1a1a1a" stroke-width="1.30" />
<circle cx="918.5" cy="482.5" r="3.4" fill="#fdfdfd" stroke="#111" stroke-width="1.8"/>
<path d="M730.5,246.3 L792,240.3 C799,246 802,256 801.8,265 C801.5,274 799,282 795,287.5 L735,294.3Z" fill="#fdfdfd" stroke="#1a1a1a" stroke-width="1.30" />
<path d="M685.5,242 L691.5,239.5 L720,238 L723,239.5 C730,250 735,262 735,272.5 C735,285 731,297 727.5,305.5 L697,309 L689,308 C686,298 684,285 684,272 C684,260 684,250 685.5,242Z" fill="#fdfdfd" stroke="#1a1a1a" stroke-width="1.30" />
<path d="M699,239 C708,255 708,292 699,308.5 L720,306.5 C729,292 729,255 720,238Z" fill="#333" opacity="0.55"/>
<path d="M699.5,239 C708.0,255 708.0,292 699.5,308.5" fill="none" stroke="#1a1a1a" stroke-width="1.90" />
<path d="M703.3,239 C711.8,255 711.8,292 703.3,308.5" fill="none" stroke="#1a1a1a" stroke-width="1.90" />
<path d="M707.1,239 C715.6,255 715.6,292 707.1,308.5" fill="none" stroke="#1a1a1a" stroke-width="1.90" />
<path d="M710.9,239 C719.4,255 719.4,292 710.9,308.5" fill="none" stroke="#1a1a1a" stroke-width="1.90" />
<path d="M714.7,239 C723.2,255 723.2,292 714.7,308.5" fill="none" stroke="#1a1a1a" stroke-width="1.90" />
<path d="M718.5,239 C727.0,255 727.0,292 718.5,308.5" fill="none" stroke="#1a1a1a" stroke-width="1.90" />
<path d="M691,240 C698,252 700.5,265 700.5,275 C700.5,290 698,300 694,308.5" fill="none" stroke="#1a1a1a" stroke-width="1.20" />
<ellipse cx="678.5" cy="276.6" rx="8.8" ry="32.0" fill="none" stroke="#1a1a1a" stroke-width="1.40" />
<ellipse cx="682.5" cy="276.6" rx="8.0" ry="30.5" fill="none" stroke="#1a1a1a" stroke-width="1.30" />
<ellipse cx="680.5" cy="276.6" rx="6.0" ry="28.0" fill="none" stroke="#1a1a1a" stroke-width="1.10" />
<use href="#snut" transform="translate(265.2,-209.6) scale(1.0)"/>
<path d="M460.8,737 L460.8,744 A29,5.5 0 0 0 518.8,744 L518.8,737Z" fill="#fdfdfd" stroke="#1a1a1a" stroke-width="1.30" />
<path d="M455.8,731.5 A33.3,5.0 0 0 1 522.4,731.5 L522.4,734.8 A33.3,5.0 0 0 1 455.8,734.8Z" fill="#fdfdfd" stroke="#1a1a1a" stroke-width="1.30" />
<path d="M455.8,731.5 A33.3,5.0 0 0 0 522.4,731.5" fill="none" stroke="#1a1a1a" stroke-width="1.00" />
<path d="M460.0,729.6 C460.1,726.7 460.1,717.6 460.8,712.0 C461.5,706.4 462.1,701.9 464.0,696.0 C465.9,690.1 468.8,682.7 472.0,676.8 C475.2,670.9 478.7,665.6 483.2,660.8 C487.7,656.0 493.6,651.6 499.2,648.0 C504.8,644.4 510.7,641.6 516.8,639.2 C522.9,636.8 528.8,634.9 536.0,633.6 C543.2,632.3 549.3,632.0 560.0,631.2 C570.7,630.4 593.3,629.2 600.0,628.8 L660,623.4 L751.2,613.8 C760,617 767,632 767.4,648 C767.5,660 762,668 757.2,671.4 L660,682.2 L600,687.2C593.3,687.7 569.6,689.5 560.0,690.4 C550.4,691.3 547.2,691.3 542.4,692.8 C537.6,694.3 534.4,696.5 531.2,699.2 C528.0,701.9 525.2,705.3 523.2,708.8 C521.2,712.3 520.0,716.4 519.2,720.0 C518.4,723.6 518.7,728.8 518.6,730.5 A29.3,5.6 0 0 1 460,730.5 Z" fill="#fdfdfd" stroke="#1a1a1a" stroke-width="1.30" />
<path d="M460.0,730.5 A29.3,5.6 0 0 0 518.6,730.5" fill="none" stroke="#1a1a1a" stroke-width="2.20" />
<path d="M754,614.5 C762,622 765,636 765,648 C765,659 761,667 756,671" fill="none" stroke="#1a1a1a" stroke-width="0.90" />
<g font-family="Liberation Sans, sans-serif" fill="#111" stroke="#111" stroke-width="0.35">
<text x="377.5" y="178.0" font-size="24.5" textLength="142.5" lengthAdjust="spacingAndGlyphs" font-weight="bold" >Parts Included</text>
<text x="227.4" y="249.0" font-size="17.5" textLength="97.0" lengthAdjust="spacingAndGlyphs" font-weight="bold" >1 1/4&quot; washer</text>
<text x="227.4" y="270.6" font-size="17.5" textLength="97.0" lengthAdjust="spacingAndGlyphs" font-weight="bold" >1 1/2&quot; washer</text>
<text x="131.0" y="430.0" font-size="17.5" textLength="178.0" lengthAdjust="spacingAndGlyphs" font-weight="bold" >Extension tube length 8&quot;</text>
<text x="275.0" y="593.0" font-size="17.5" textLength="149.3" lengthAdjust="spacingAndGlyphs" font-weight="bold" >Wall tube length 4.5&quot;</text>
<text x="647.3" y="529.7" font-size="17.5" textLength="106.0" lengthAdjust="spacingAndGlyphs" font-weight="bold" >Hose length 9&quot;</text>
<text x="881.0" y="522.0" font-size="17.5" textLength="75.0" lengthAdjust="spacingAndGlyphs" font-weight="bold" >1 1/2&quot; Wall</text>
<text x="881.0" y="543.5" font-size="17.5" textLength="37.5" lengthAdjust="spacingAndGlyphs" font-weight="bold" >Drain</text>
<text x="881.0" y="565.0" font-size="17.5" textLength="64.5" lengthAdjust="spacingAndGlyphs" font-weight="bold" >Coupling</text>
<text x="825.8" y="245.2" font-size="17.5" textLength="93.6" lengthAdjust="spacingAndGlyphs" font-weight="bold" >1 1/2&quot; - 1 1/4&quot;</text>
<text x="826.0" y="266.4" font-size="17.5" textLength="67.6" lengthAdjust="spacingAndGlyphs" font-weight="bold" >Reducing</text>
<text x="826.0" y="288.0" font-size="17.5" textLength="64.6" lengthAdjust="spacingAndGlyphs" font-weight="bold" >Coupling</text>
<text x="577.6" y="725.6" font-size="13.5" textLength="185.4" lengthAdjust="spacingAndGlyphs" font-weight="bold" >Long Wall Tube with Washer</text>
</g>
</svg>
</body></html>
